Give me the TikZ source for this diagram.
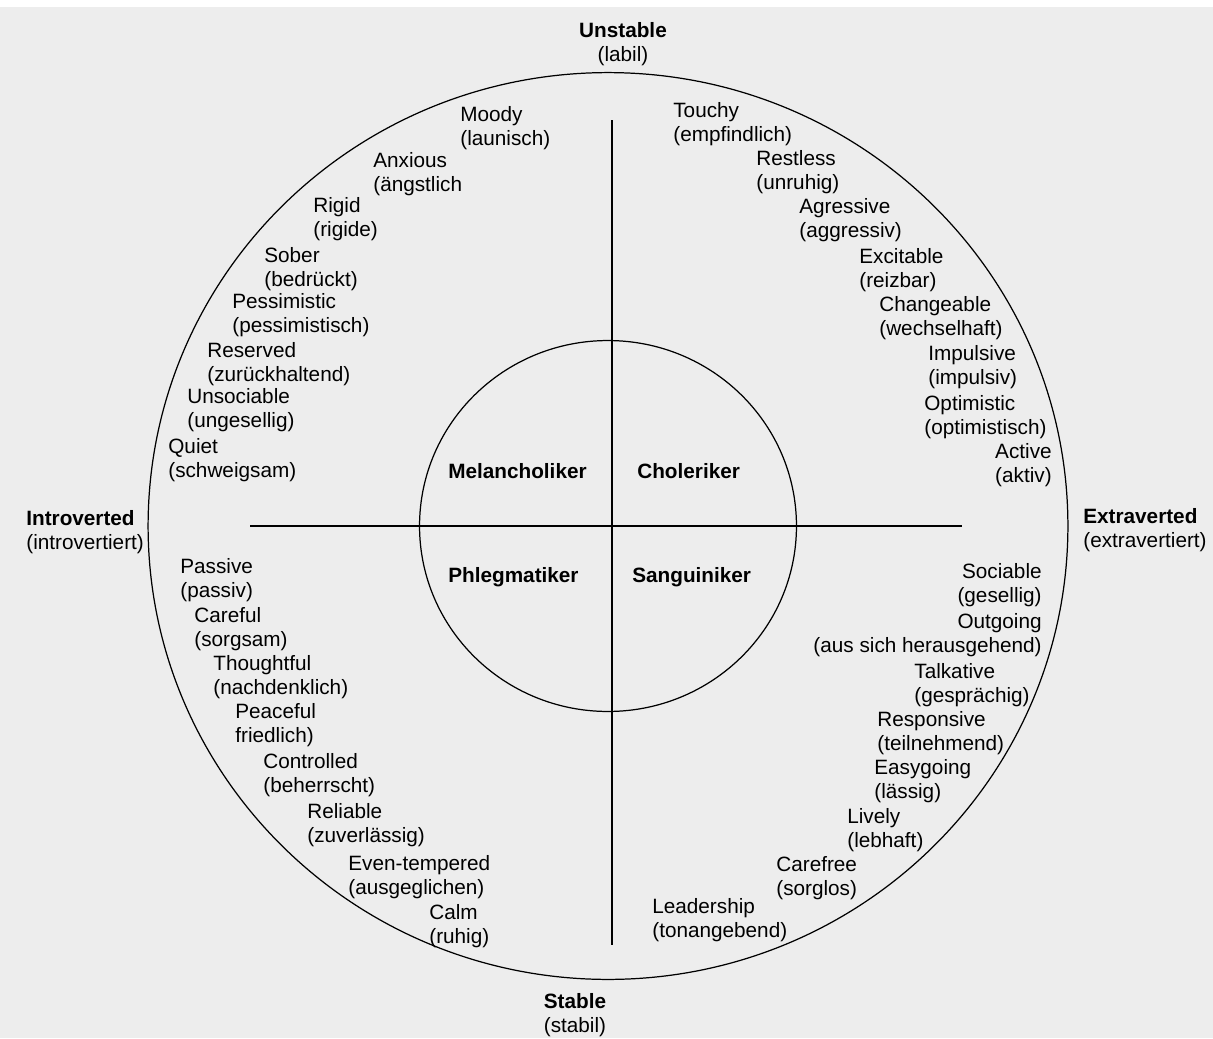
\documentclass[tikz,border=0pt]{standalone}
\usepackage{fontspec}
\setmainfont{Liberation Sans}

\begin{document}
\begin{tikzpicture}[
      x=0.02cm, y=-0.02cm,
      word/.style = {inner sep=0pt, font=\fontsize{11.8}{13.7}\selectfont},
      wl/.style = {word, anchor=north west, align=left},
      wr/.style = {word, anchor=north east, align=right},
      axl/.style = {word, font=\fontsize{11.8}{13.7}\selectfont\bfseries},
      temp/.style = {wl, font=\fontsize{11.8}{13.7}\selectfont\bfseries},
      ring/.style = {draw, line width=0.7pt},
      axis/.style = {draw, line width=1.1pt},
      paper/.style = {fill={rgb,255:red,237;green,237;blue,237}}
      ]
      \useasboundingbox (0,0) rectangle (1213,1038);
      \fill[paper] (0,7) rectangle (1213,1038);
      \coordinate (c) at (608,526);
      \coordinate (vt) at (612,120);
      \coordinate (vb) at (612,945);
      \coordinate (hl) at (250,526);
      \coordinate (hr) at (962,526);
      \draw[ring] (c) ellipse [x radius=9.2cm, y radius=9.07cm];
      \draw[ring] (c) ellipse [x radius=3.77cm, y radius=3.71cm];
      \draw[axis] (vt) -- (vb);
      \draw[axis] (hl) -- (hr);
      \node[axl, anchor=north, align=center] (ax0) at (623,22) {Unstable\\\mdseries(labil)};
      \node[axl, anchor=north, align=center] (ax1) at (575,993) {Stable\\\mdseries(stabil)};
      \node[axl, anchor=north west, align=left] (ax2) at (26,510) {Introverted\\\mdseries(introvertiert)};
      \node[axl, anchor=north west, align=left] (ax3) at (1083,508) {Extraverted\\\mdseries(extravertiert)};
      \node[temp] (tp0) at (448,463) {Melancholiker};
      \node[temp] (tp1) at (637,463) {Choleriker};
      \node[temp] (tp2) at (448,567) {Phlegmatiker};
      \node[temp] (tp3) at (632,567) {Sanguiniker};
      \node[wl] (tl0) at (460,106) {Moody\\(launisch)};
      \node[wl] (tl1) at (373,152) {Anxious\\(ängstlich};
      \node[wl] (tl2) at (313,197) {Rigid\\(rigide)};
      \node[wl] (tl3) at (264,247) {Sober\\(bedrückt)};
      \node[wl] (tl4) at (232,293) {Pessimistic\\(pessimistisch)};
      \node[wl] (tl5) at (207,342) {Reserved\\(zurückhaltend)};
      \node[wl] (tl6) at (187,388) {Unsociable\\(ungesellig)};
      \node[wl] (tl7) at (168,438) {Quiet\\(schweigsam)};
      \node[wl] (tr0) at (673,102) {Touchy\\(empfindlich)};
      \node[wl] (tr1) at (756,150) {Restless\\(unruhig)};
      \node[wl] (tr2) at (799,198) {Agressive\\(aggressiv)};
      \node[wl] (tr3) at (859,248) {Excitable\\(reizbar)};
      \node[wl] (tr4) at (879,296) {Changeable\\(wechselhaft)};
      \node[wl] (tr5) at (928,345) {Impulsive\\(impulsiv)};
      \node[wl] (tr6) at (924,395) {Optimistic\\(optimistisch)};
      \node[wr] (tr7) at (1052,443) {Active\\(aktiv)};
      \node[wl] (bl0) at (180,558) {Passive\\(passiv)};
      \node[wl] (bl1) at (194,607) {Careful\\(sorgsam)};
      \node[wl] (bl2) at (213,655) {Thoughtful\\(nachdenklich)};
      \node[wl] (bl3) at (235,703) {Peaceful\\friedlich)};
      \node[wl] (bl4) at (263,753) {Controlled\\(beherrscht)};
      \node[wl] (bl5) at (307,803) {Reliable\\(zuverlässig)};
      \node[wl] (bl6) at (348,855) {Even-tempered\\(ausgeglichen)};
      \node[wl] (bl7) at (429,904) {Calm\\(ruhig)};
      \node[wr] (br0) at (1042,563) {Sociable\\(gesellig)};
      \node[wr] (br1) at (1042,613) {Outgoing\\(aus sich herausgehend)};
      \node[wl] (br2) at (914,663) {Talkative\\(gesprächig)};
      \node[wl] (br3) at (877,711) {Responsive\\(teilnehmend)};
      \node[wl] (br4) at (874,759) {Easygoing\\(lässig)};
      \node[wl] (br5) at (847,808) {Lively\\(lebhaft)};
      \node[wl] (br6) at (776,856) {Carefree\\(sorglos)};
      \node[wl] (br7) at (652,898) {Leadership\\(tonangebend)};
\end{tikzpicture}
\end{document}
